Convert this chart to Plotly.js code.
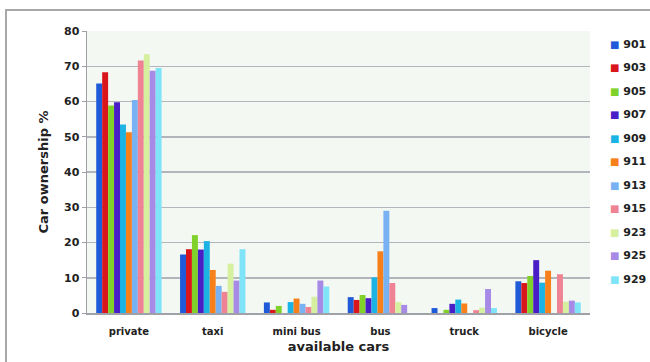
<!DOCTYPE html>
<html><head><meta charset="utf-8">
<script src="https://cdn.plot.ly/plotly-3.0.1.min.js"></script>
<style>
html,body{margin:0;padding:0;background:#fff;}
#chart{width:650px;height:362px;}
#frame{position:absolute;left:5px;top:9px;width:660px;height:360px;border:2px solid #a8a8a8;pointer-events:none;box-sizing:border-box;}
</style></head>
<body>
<div id="chart"></div>
<div id="frame"></div>
<script>
const categories = ["private", "taxi", "mini bus", "bus", "truck", "bicycle"];
const seriesNames = ["901", "903", "905", "907", "909", "911", "913", "915", "923", "925", "929"];
const s901 = [65.1, 16.6, 3.0, 4.5, 1.4, 9.0];
const s903 = [68.3, 18.1, 0.9, 3.7, 0, 8.5];
const s905 = [58.9, 22.1, 2.0, 5.1, 0.9, 10.5];
const s907 = [59.8, 18.0, 0, 4.2, 2.6, 15.0];
const s909 = [53.5, 20.4, 3.1, 10.1, 3.8, 8.6];
const s911 = [51.3, 12.2, 4.1, 17.5, 2.7, 12.0];
const s913 = [60.4, 7.7, 2.6, 29.0, 0, 0];
const s915 = [71.6, 6.0, 1.7, 8.5, 0.8, 11.0];
const s923 = [73.4, 14.0, 4.6, 3.1, 1.5, 3.2];
const s925 = [68.7, 9.2, 9.2, 2.3, 6.8, 3.5];
const s929 = [69.5, 18.1, 7.5, 0, 1.4, 3.0];
const seriesValues = [s901, s903, s905, s907, s909, s911, s913, s915, s923, s925, s929];
const colors = ["#1f5ad8", "#d9161c", "#80d22a", "#4a1ec6", "#1ab3e3", "#f8801a", "#78b2f2", "#ef8393", "#d5f1a0", "#a68ae6", "#80e4f8"];

const traces = seriesNames.map((n, i) => ({
  type: "bar", name: n, x: categories, y: seriesValues[i],
  marker: {color: colors[i], line: {width: 0}},
  showlegend: false
}));

// custom legend (annotations), matching the reference's compact squares
const plotTop = 31, plotH = 282;
const legendAnn = seriesNames.map((n, i) => ({
  xref: "paper", yref: "paper",
  x: 1.035, xanchor: "left",
  y: 1 - ((44 + 23.5 * i) - plotTop) / plotH, yanchor: "middle",
  showarrow: false,
  text: '<span style="color:' + colors[i] + ';font-size:10px">■</span> ' + n,
  font: {size: 11, weight: "bold", color: "#222"}
}));

const layout = {
  width: 650, height: 362,
  margin: {l: 87, r: 60, t: 31, b: 49},
  paper_bgcolor: "#ffffff",
  plot_bgcolor: "#f3f8f3",
  font: {family: "DejaVu Sans, Verdana, sans-serif", size: 11, color: "#222"},
  barmode: "group", bargap: 0.22, bargroupgap: 0,
  xaxis: {
    title: {text: "available cars", font: {size: 13, weight: "bold", color: "#222"}, standoff: 6},
    tickfont: {size: 10, weight: "bold", color: "#222"},
    ticklabelstandoff: 8,
    showline: true, linecolor: "#a0a0a8", linewidth: 1.5,
    ticks: "", fixedrange: true
  },
  yaxis: {
    title: {text: "Car ownership %", font: {size: 13, weight: "bold", color: "#222"}, standoff: 12},
    range: [0, 80], dtick: 10,
    tickfont: {size: 11, weight: "bold", color: "#222"},
    gridcolor: "#b4b4bc", gridwidth: 1.5,
    showline: true, linecolor: "#a0a0a8", linewidth: 1.5,
    ticks: "outside", ticklen: 4, tickcolor: "#a0a0a8",
    zeroline: false
  },
  annotations: legendAnn,
  showlegend: false
};

Plotly.newPlot("chart", traces, layout, {displayModeBar: false, staticPlot: true});
</script>
</body></html>
